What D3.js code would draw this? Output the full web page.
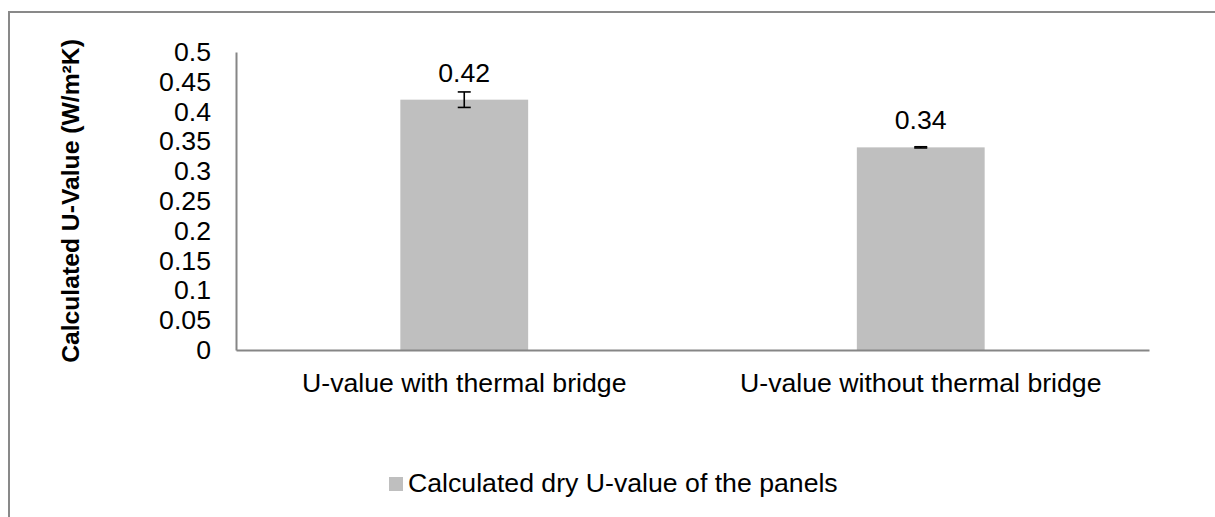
<!DOCTYPE html>
<html>
<head>
<meta charset="utf-8">
<title>Calculated U-Value</title>
<style>
  body { margin: 0; background: #fff; }
  text { font-family: "Liberation Sans", Arial, sans-serif; fill: #000; }
</style>
</head>
<body>
<script src="https://cdn.jsdelivr.net/npm/d3@7"></script>
<script>
// data
var categories = ["U-value with thermal bridge", "U-value without thermal bridge"];
var values = [0.42, 0.34];
var errors = [0.013, 0.001];
var yTicks = [0, 0.05, 0.1, 0.15, 0.2, 0.25, 0.3, 0.35, 0.4, 0.45, 0.5];
var seriesName = "Calculated dry U-value of the panels";
var yTitle = "Calculated U-Value (W/m\u00B2K)";

var W = 1215, H = 517;
var margin = {top: 52, left: 236, right: 66, bottom: 167};
var width = W - margin.left - margin.right,
    height = H - margin.top - margin.bottom;
var fs = "26.67px";

var svg = d3.select("body").append("svg")
    .attr("width", W)
    .attr("height", H);

// outer chart frame
svg.append("rect")
    .attr("x", 9).attr("y", 12)
    .attr("width", W + 20).attr("height", H + 20)
    .style("fill", "none")
    .style("stroke", "#898989")
    .style("stroke-width", 2);

var chart = svg.append("g")
    .attr("transform", "translate(" + margin.left + "," + margin.top + ")");

var x = d3.scaleBand().domain(categories).range([0, width]).paddingInner(0.72).paddingOuter(0.36);
var y = d3.scaleLinear().domain([0, 0.5]).range([height, 0]);

var data = categories.map(function(c, i) { return {cat: c, v: values[i], e: errors[i]}; });

// bars
chart.selectAll(".bar").data(data).enter().append("rect")
    .attr("class", "bar")
    .attr("x", function(d) { return x(d.cat); })
    .attr("y", function(d) { return y(d.v); })
    .attr("width", x.bandwidth())
    .attr("height", function(d) { return height - y(d.v); })
    .style("fill", "#bfbfbf");

// y axis
var yAxis = chart.append("g")
    .call(d3.axisLeft(y).tickValues(yTicks).tickSize(0).tickPadding(25)
        .tickFormat(function(d) { return String(+d.toFixed(2)); }));
yAxis.select(".domain").style("stroke", "#868686").style("stroke-width", 2);
yAxis.selectAll("text").style("font-size", fs)
    .style("font-family", "'Liberation Sans', Arial, sans-serif");

// x axis
var xAxis = chart.append("g")
    .attr("transform", "translate(0," + height + ")")
    .call(d3.axisBottom(x).tickSize(0).tickPadding(23));
xAxis.select(".domain").style("stroke", "#868686").style("stroke-width", 2);
xAxis.selectAll("text").style("font-size", fs)
    .style("font-family", "'Liberation Sans', Arial, sans-serif");

// error bars
var eb = chart.selectAll(".err").data(data).enter().append("g").attr("class", "err");
eb.append("line")
    .attr("x1", function(d) { return x(d.cat) + x.bandwidth() / 2; })
    .attr("x2", function(d) { return x(d.cat) + x.bandwidth() / 2; })
    .attr("y1", function(d) { return y(d.v + d.e); })
    .attr("y2", function(d) { return y(d.v - d.e); });
eb.append("line")
    .attr("x1", function(d) { return x(d.cat) + x.bandwidth() / 2 - 6.5; })
    .attr("x2", function(d) { return x(d.cat) + x.bandwidth() / 2 + 6.5; })
    .attr("y1", function(d) { return y(d.v + d.e); })
    .attr("y2", function(d) { return y(d.v + d.e); });
eb.append("line")
    .attr("x1", function(d) { return x(d.cat) + x.bandwidth() / 2 - 6.5; })
    .attr("x2", function(d) { return x(d.cat) + x.bandwidth() / 2 + 6.5; })
    .attr("y1", function(d) { return y(d.v - d.e); })
    .attr("y2", function(d) { return y(d.v - d.e); });
eb.selectAll("line").style("stroke", "#000").style("stroke-width", 1.6);

// value labels
chart.selectAll(".lbl").data(data).enter().append("text")
    .attr("x", function(d) { return x(d.cat) + x.bandwidth() / 2; })
    .attr("y", function(d) { return y(d.v) - 18; })
    .attr("text-anchor", "middle")
    .style("font-size", fs)
    .text(function(d) { return d.v; });

// y title
svg.append("text")
    .attr("transform", "translate(79," + (margin.top + height / 2) + ") rotate(-90)")
    .attr("text-anchor", "middle")
    .style("font-size", "24.7px")
    .style("font-weight", "bold")
    .text(yTitle);

// legend
var lg = svg.append("g").attr("transform", "translate(389,477)");
lg.append("rect").attr("width", 14).attr("height", 14).style("fill", "#bfbfbf");
lg.append("text").attr("x", 19).attr("y", 15).style("font-size", fs).text(seriesName);
</script>
</body>
</html>
